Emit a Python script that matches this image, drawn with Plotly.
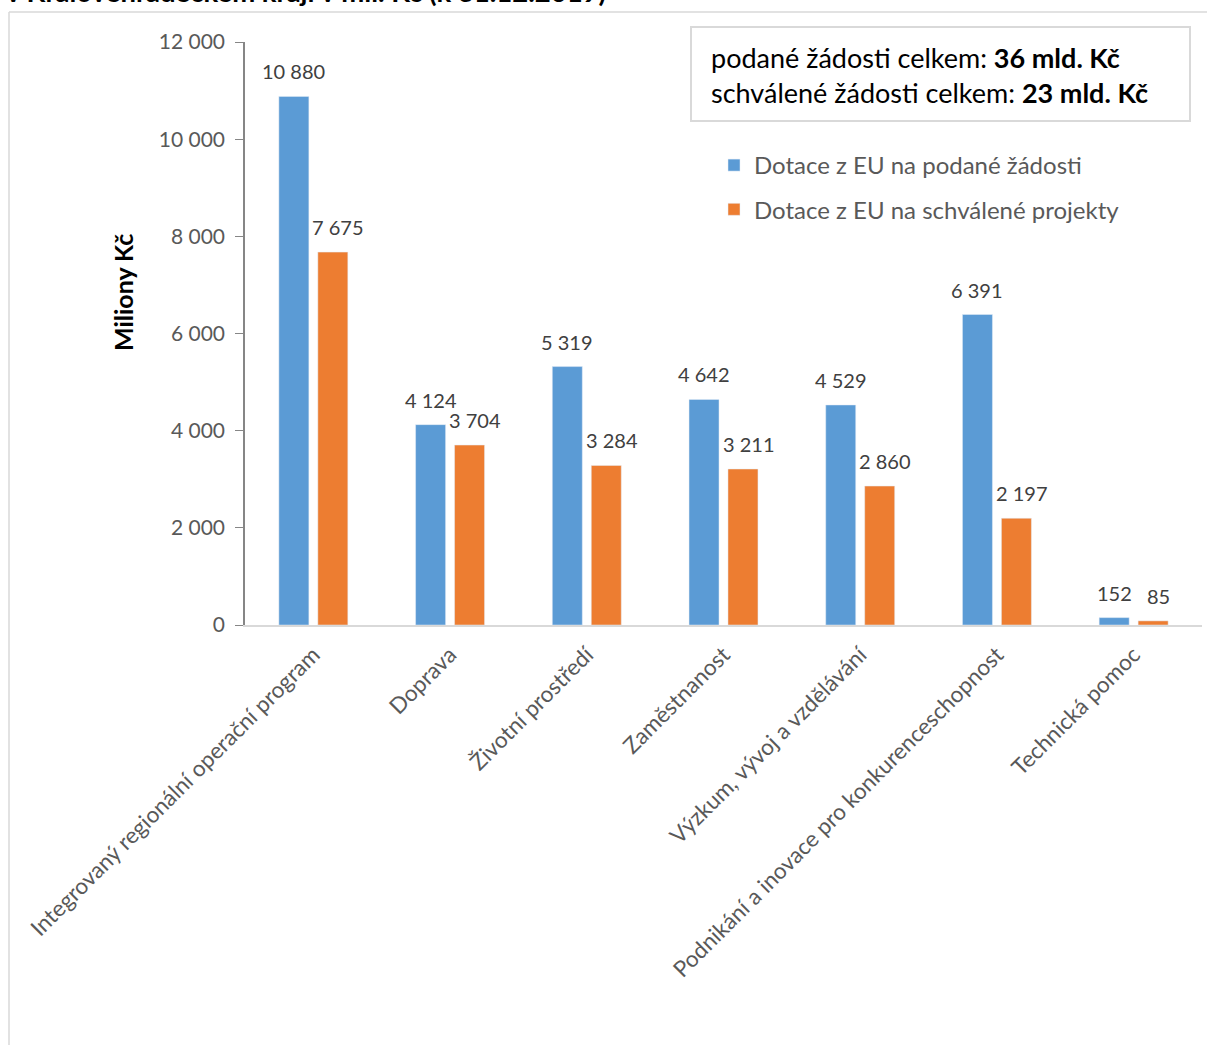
import plotly.graph_objects as go

categories = ["Integrovaný regionální operační program", "Doprava", "Životní prostředí",
              "Zaměstnanost", "Výzkum, vývoj a vzdělávání",
              "Podnikání a inovace pro konkurenceschopnost", "Technická pomoc"]
podane = [10880, 4124, 5319, 4642, 4529, 6391, 152]
schvalene = [7675, 3704, 3284, 3211, 2860, 2197, 85]
series_names = ["Dotace z EU na podané žádosti", "Dotace z EU na schválené projekty"]
colors = ["#5B9BD5", "#ED7D31"]

def fmt(v):
    return f"{v:,}".replace(",", " ")

W, H = 1207, 1045
L, R, T, B = 245, 5, 42, 420
pw = W - L - R
ph = H - T - B

def px(x):
    return (x - L) / pw

def py(y):
    return (H - B - y) / ph

font = "Lato, Carlito, Calibri, sans-serif"

fig = go.Figure()
for i, (vals, name) in enumerate([(podane, series_names[0]), (schvalene, series_names[1])]):
    fig.add_trace(go.Bar(
        x=categories, y=vals, name=name, marker_color=colors[i],
        legendgroup=f"g{i}", hoverinfo="x+y",
    ))

annotations = []
# data labels, anchored at each bar's value
for i, vals in enumerate([podane, schvalene]):
    xshift = -19.5 if i == 0 else 25
    for c, v in zip(categories, vals):
        annotations.append(dict(
            x=c, y=v, xref="x", yref="y", text=fmt(v), showarrow=False,
            xanchor="center", yanchor="middle", xshift=xshift, yshift=25,
            font=dict(size=20, color="#404040", family=font)))

annotations += [
    dict(xref="paper", yref="paper", x=px(709), y=py(57), xanchor="left",
         yanchor="middle", showarrow=False, align="left",
         text="podané žádosti celkem: <b>36 mld. Kč</b>",
         font=dict(size=27, color="#000000", family=font)),
    dict(xref="paper", yref="paper", x=px(709), y=py(93), xanchor="left",
         yanchor="middle", showarrow=False, align="left",
         text="schválené žádosti celkem: <b>23 mld. Kč</b>",
         font=dict(size=27, color="#000000", family=font)),
    dict(xref="paper", yref="paper", x=px(4), y=py(10), xanchor="left",
         yanchor="bottom", showarrow=False, align="left",
         text="<b>v Královéhradeckém kraji v mil. Kč (k 31.12.2019)</b>",
         font=dict(size=27.5, color="#000000", family=font)),
    dict(xref="paper", yref="paper", x=px(123), y=py(292), xanchor="center",
         yanchor="middle", showarrow=False, textangle=-90,
         text="<b>Miliony Kč</b>", font=dict(size=25, color="#000000", family=font)),
]

fig.update_layout(
    width=W, height=H,
    margin=dict(l=L, r=R, t=T, b=B, autoexpand=False),
    paper_bgcolor="white", plot_bgcolor="white",
    separators=", ",
    barmode="group", bargap=0.43, bargroupgap=0.23,
    font=dict(family=font, size=20, color="#595959"),
    showlegend=True,
    legend=dict(x=px(714), y=py(143), xanchor="left", yanchor="top",
                font=dict(size=24, color="#595959", family=font),
                tracegroupgap=10, bgcolor="rgba(0,0,0,0)"),
    xaxis=dict(showline=True, linecolor="#D9D9D9", linewidth=1.5, tickangle=-45,
               ticks="", tickfont=dict(size=22.5, color="#595959"), showgrid=False,
               ticklabelstandoff=6),
    yaxis=dict(range=[0, 12000], dtick=2000, tickformat=",d", showgrid=False,
               showline=True, linecolor="#868686", linewidth=1.5, ticks="outside",
               ticklen=8, tickcolor="#868686", tickfont=dict(size=21, color="#595959"),
               zeroline=False, ticklabelstandoff=6),
    shapes=[
        dict(type="line", xref="paper", yref="paper", x0=px(9), x1=px(1250),
             y0=py(12), y1=py(12), line=dict(color="#D9D9D9", width=1.5)),
        dict(type="line", xref="paper", yref="paper", x0=px(9), x1=px(9),
             y0=py(12), y1=py(1100), line=dict(color="#D9D9D9", width=1.5)),
        dict(type="rect", xref="paper", yref="paper", x0=px(691), x1=px(1190),
             y0=py(27), y1=py(121), line=dict(color="#D9D9D9", width=2),
             fillcolor="white"),
    ],
    annotations=annotations,
)

fig.write_html("out.html", config={"displayModeBar": False},
               post_script="document.body.style.margin='0';")
